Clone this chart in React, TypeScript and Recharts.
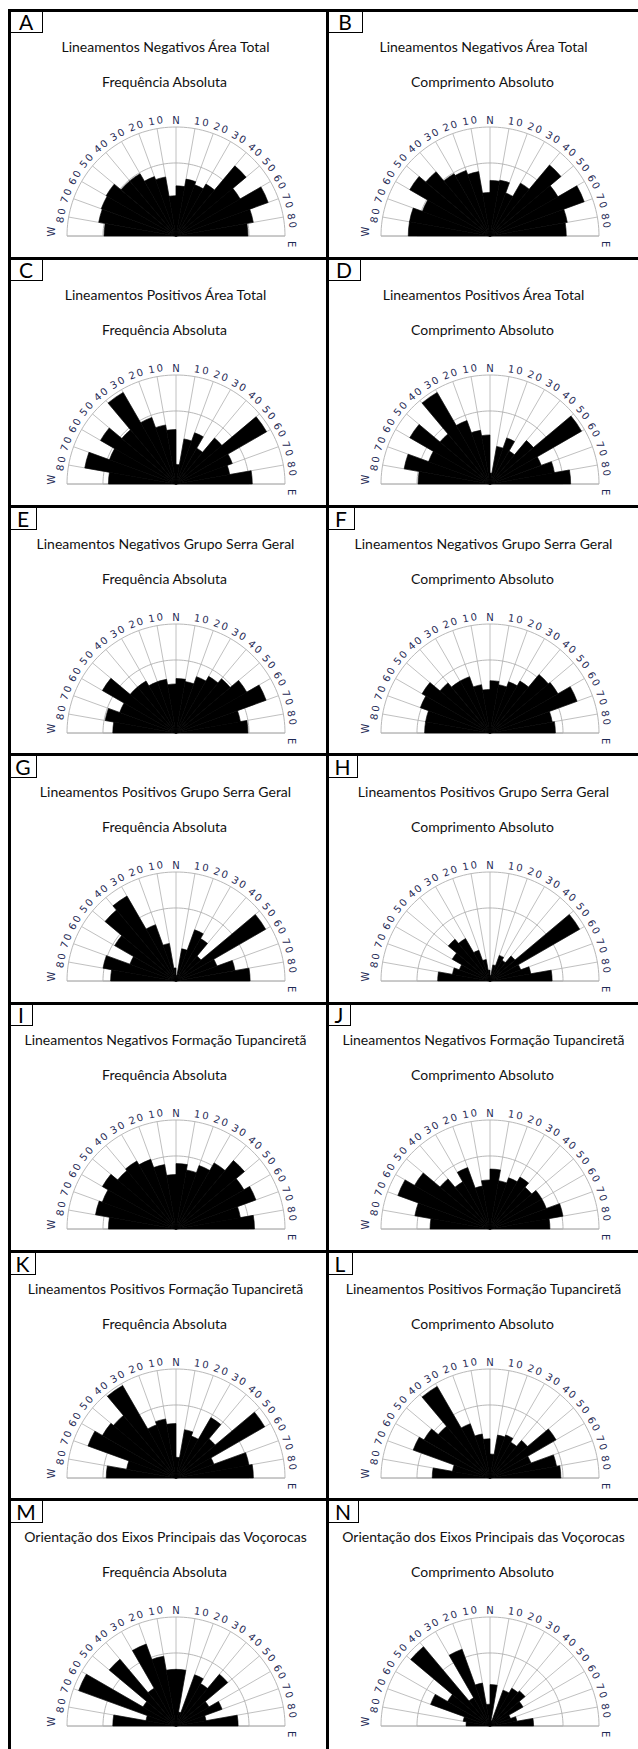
import React from 'react';
import { RadialBarChart, RadialBar, PolarAngleAxis, PolarRadiusAxis, PolarGrid } from 'recharts';

// sector categories from W to E (10° each)
const sectors = ['90W', '80W', '70W', '60W', '50W', '40W', '30W', '20W', '10W', '0E', '10E', '20E', '30E', '40E', '50E', '60E', '70E', '80E'];
// compass angles of the sector edges / tick labels (W = -90, N = 0, E = 90)
const tickAngles = [-90, -80, -70, -60, -50, -40, -30, -20, -10, 0, 10, 20, 30, 40, 50, 60, 70, 80, 90];
const tickLabels = ['W', '80', '70', '60', '50', '40', '30', '20', '10', 'N', '10', '20', '30', '40', '50', '60', '70', '80', 'E'];
const ringTicks = [0.67, 1];

// relative values of each sector (fraction of the outer circle)
const valuesA = [0.66, 0.72, 0.73, 0.74, 0.66, 0.66, 0.58, 0.55, 0.37, 0.46, 0.53, 0.5, 0.55, 0.84, 0.68, 0.9, 0.72, 0.66];
const valuesB = [0.75, 0.75, 0.66, 0.85, 0.77, 0.66, 0.64, 0.6, 0.4, 0.51, 0.52, 0.42, 0.56, 0.85, 0.72, 0.92, 0.72, 0.7];
const valuesC = [0.62, 0.85, 0.65, 0.8, 0.65, 0.97, 0.65, 0.55, 0.5, 0.18, 0.42, 0.5, 0.38, 0.55, 0.96, 0.55, 0.5, 0.7];
const valuesD = [0.66, 0.8, 0.6, 0.85, 0.6, 0.97, 0.62, 0.5, 0.45, 0.1, 0.35, 0.45, 0.35, 0.52, 0.97, 0.5, 0.6, 0.74];
const valuesE = [0.58, 0.66, 0.55, 0.78, 0.55, 0.55, 0.5, 0.5, 0.45, 0.5, 0.48, 0.55, 0.6, 0.65, 0.75, 0.88, 0.6, 0.66];
const valuesF = [0.6, 0.6, 0.68, 0.72, 0.6, 0.55, 0.55, 0.45, 0.4, 0.48, 0.45, 0.5, 0.55, 0.7, 0.72, 0.85, 0.58, 0.6];
const valuesG = [0.6, 0.68, 0.45, 0.65, 0.85, 0.9, 0.55, 0.35, 0.12, 0.05, 0.3, 0.5, 0.45, 0.3, 0.95, 0.4, 0.55, 0.68];
const valuesH = [0.48, 0.35, 0.3, 0.4, 0.5, 0.45, 0.3, 0.2, 0.1, 0.05, 0.15, 0.25, 0.22, 0.3, 0.95, 0.3, 0.38, 0.57];
const valuesI = [0.62, 0.75, 0.72, 0.78, 0.7, 0.72, 0.68, 0.6, 0.5, 0.6, 0.55, 0.62, 0.7, 0.82, 0.72, 0.78, 0.6, 0.72];
const valuesJ = [0.55, 0.7, 0.9, 0.8, 0.6, 0.5, 0.6, 0.4, 0.45, 0.55, 0.45, 0.5, 0.55, 0.5, 0.55, 0.55, 0.68, 0.55];
const valuesK = [0.64, 0.46, 0.86, 0.78, 0.75, 0.98, 0.52, 0.55, 0.5, 0.19, 0.45, 0.41, 0.64, 0.47, 0.94, 0.37, 0.68, 0.71];
const valuesL = [0.53, 0.35, 0.75, 0.7, 0.62, 0.97, 0.53, 0.41, 0.36, 0.22, 0.4, 0.42, 0.38, 0.45, 0.7, 0.4, 0.62, 0.65];
const valuesM = [0.58, 0.28, 0.95, 0.35, 0.8, 0.4, 0.8, 0.65, 0.52, 0.52, 0.13, 0.5, 0.45, 0.62, 0.35, 0.45, 0.28, 0.57];
const valuesN = [0.22, 0.25, 0.58, 0.45, 0.95, 0.3, 0.75, 0.4, 0.2, 0.38, 0.05, 0.35, 0.4, 0.42, 0.35, 0.2, 0.25, 0.4];

const letters = ['A', 'B', 'C', 'D', 'E', 'F', 'G', 'H', 'I', 'J', 'K', 'L', 'M', 'N'];
const titles = [
  'Lineamentos Negativos Área Total',
  'Lineamentos Positivos Área Total',
  'Lineamentos Negativos Grupo Serra Geral',
  'Lineamentos Positivos Grupo Serra Geral',
  'Lineamentos Negativos Formação Tupanciretã',
  'Lineamentos Positivos Formação Tupanciretã',
  'Orientação dos Eixos Principais das Voçorocas',
];
const subtitles = ['Frequência Absoluta', 'Comprimento Absoluto'];
const panelValues = [valuesA, valuesB, valuesC, valuesD, valuesE, valuesF, valuesG, valuesH, valuesI, valuesJ, valuesK, valuesL, valuesM, valuesN];
const boxWidths = [33, 35, 33, 33, 27, 27, 27, 30, 23, 23, 26, 25, 33, 31];

// layout
const ROW_TOP = 10;
const ROW_H = 248.33;
const COL_X = [9.5, 327.5];
const R = 109;
const CHART_W = 318;
const CHART_H = 150;
const CHART_TOP = 90;
const CY = 136;
const FONT = 'Lato, "Open Sans", sans-serif';
const BAND = 180 / sectors.length;

const fineAngles: number[] = [];
for (let a = 180; a >= 0; a -= 2) fineAngles.push(a);
const spokeAngles = tickAngles.map((v) => 90 - v);

function labelAt(cx: number, cy: number, k: number) {
  const v = tickAngles[k];
  const label = tickLabels[k];
  let rOff = 8;
  let dA = 0;
  if (v === -90) {
    rOff = 16;
    dA = 2;
  } else if (v === 90) {
    rOff = 7;
    dA = 4;
  } else if (v > 0) {
    dA = 2.5;
  } else if (v === 0) {
    rOff = 7;
  }
  const t = ((v + dA) * Math.PI) / 180;
  const r = R + rOff;
  const x = cx + r * Math.sin(t);
  const y = cy - r * Math.cos(t);
  return (
    <text
      key={k}
      x={x}
      y={y}
      dx={1}
      transform={`rotate(${v}, ${x}, ${y})`}
      textAnchor="middle"
      dominantBaseline="central"
      fontSize={10}
      letterSpacing={2}
      fontFamily='"DejaVu Sans", Verdana, sans-serif'
      fill="#1f2a55"
    >
      {label}
    </text>
  );
}

function makeTick(cx: number, cy: number) {
  return (props: any) => {
    const { payload } = props;
    const i = typeof props.index === 'number' ? props.index : sectors.indexOf(payload && payload.value);
    if (i < 0) return null;
    // each sector tick labels its western edge; the last one also labels E
    return (
      <g>
        {labelAt(cx, cy, i)}
        {i === sectors.length - 1 ? labelAt(cx, cy, i + 1) : null}
      </g>
    );
  };
}

function Rose({ values, cx }: { values: number[]; cx: number }) {
  const data = sectors.map((s, i) => ({ dir: s, v: values[i] }));
  return (
    <RadialBarChart
      width={CHART_W}
      height={CHART_H}
      data={data}
      cx={cx}
      cy={CY}
      innerRadius={0}
      outerRadius={R}
      startAngle={180 - BAND}
      endAngle={-BAND}
      layout="centric"
      barCategoryGap={0}
      barGap={0}
      margin={{ top: 0, right: 0, bottom: 0, left: 0 }}
    >
      <PolarGrid gridType="polygon" polarAngles={fineAngles} radialLines={false} stroke="#b0b0b0" strokeWidth={0.9} />
      <PolarGrid gridType="polygon" polarAngles={spokeAngles} polarRadius={[]} radialLines={true} stroke="#b0b0b0" strokeWidth={0.8} />
      <PolarAngleAxis dataKey="dir" type="category" tick={makeTick(cx, CY)} tickLine={false} axisLine={false} />
      <PolarRadiusAxis type="number" domain={[0, 1]} ticks={ringTicks} tick={false} axisLine={false} tickLine={false} />
      <RadialBar dataKey="v" fill="#000" stroke="#000" strokeWidth={0.6} isAnimationActive={false} />
    </RadialBarChart>
  );
}

function Panel({ index }: { index: number }) {
  const col = index % 2;
  const row = Math.floor(index / 2);
  const x0 = COL_X[col];
  const y0 = ROW_TOP + row * ROW_H;
  const cx = col === 0 ? 166 : 162;
  return (
    <div style={{ position: 'absolute', left: x0, top: y0, width: 318, height: ROW_H }}>
      <div
        style={{
          position: 'absolute',
          left: 0,
          top: 0,
          width: boxWidths[index],
          height: 23,
          border: '1.5px solid #000',
          boxSizing: 'border-box',
          fontFamily: FONT,
          fontSize: 21,
          lineHeight: '22px',
          textAlign: 'center',
          color: '#000',
          background: '#fff',
        }}
      >
        {letters[index]}
      </div>
      <div
        style={{
          position: 'absolute',
          left: 156 - 200,
          width: 400,
          top: 37 - 10,
          height: 20,
          lineHeight: '20px',
          textAlign: 'center',
          fontFamily: FONT,
          fontSize: 14,
          color: '#111',
          whiteSpace: 'nowrap',
        }}
      >
        {titles[row]}
      </div>
      <div
        style={{
          position: 'absolute',
          left: 155 - 200,
          width: 400,
          top: 72 - 10,
          height: 20,
          lineHeight: '20px',
          textAlign: 'center',
          fontFamily: FONT,
          fontSize: 14,
          color: '#111',
          whiteSpace: 'nowrap',
        }}
      >
        {subtitles[col]}
      </div>
      <div style={{ position: 'absolute', left: 0, top: CHART_TOP, width: CHART_W, height: CHART_H }}>
        <Rose values={panelValues[index]} cx={cx} />
      </div>
    </div>
  );
}

export default function App() {
  const hLines = [0, 1, 2, 3, 4, 5, 6].map((r) => ROW_TOP + r * ROW_H);
  return (
    <div
      style={{
        position: 'absolute',
        left: 0,
        top: 0,
        width: 638,
        height: 1749,
        overflow: 'hidden',
        background: '#fff',
      }}
    >
      {letters.map((_, i) => (
        <Panel key={i} index={i} />
      ))}
      {hLines.map((y, i) => (
        <div key={'h' + i} style={{ position: 'absolute', left: 8, top: y - 1.5, width: 640, height: 3, background: '#000' }} />
      ))}
      {COL_X.map((x, i) => (
        <div key={'v' + i} style={{ position: 'absolute', left: x - 1.5, top: ROW_TOP - 1.5, width: 3, height: 1760, background: '#000' }} />
      ))}
    </div>
  );
}
